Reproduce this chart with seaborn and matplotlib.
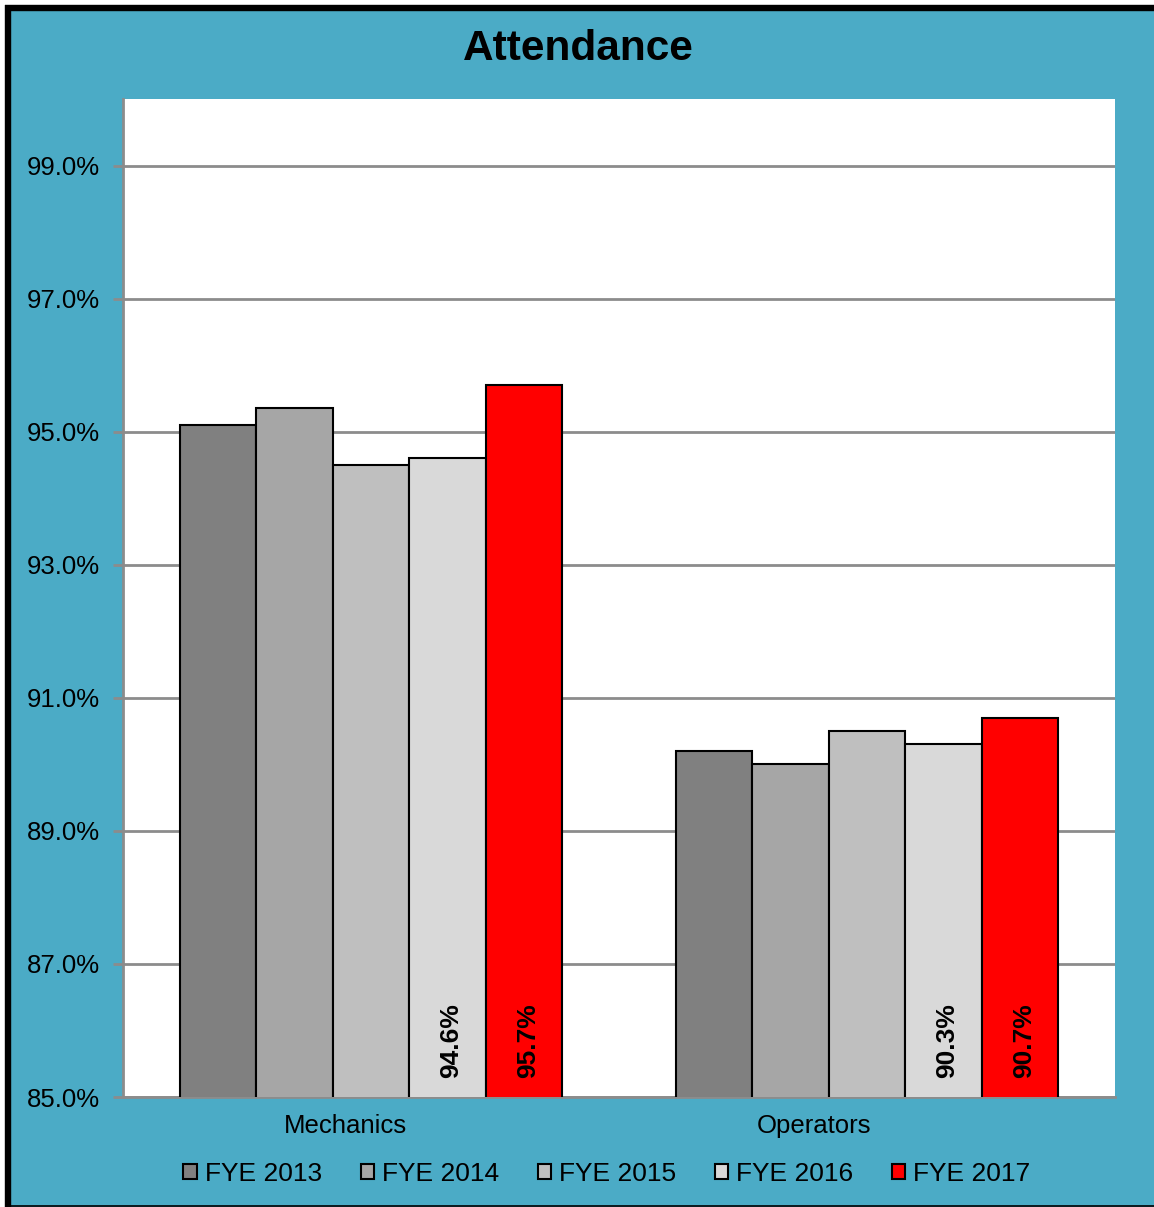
import matplotlib
matplotlib.use("Agg")
import matplotlib.pyplot as plt
import matplotlib.transforms as mtransforms
import seaborn as sns
import pandas as pd
from matplotlib.patches import Rectangle
from matplotlib.lines import Line2D
from matplotlib.ticker import FuncFormatter

categories = ["Mechanics", "Operators"]
years = ["FYE 2013", "FYE 2014", "FYE 2015", "FYE 2016", "FYE 2017"]
mechanics = [95.1, 95.35, 94.5, 94.6, 95.7]
operators = [90.2, 90.0, 90.5, 90.3, 90.7]
colors = ["#808080", "#A6A6A6", "#BFBFBF", "#D9D9D9", "#FF0000"]
labeled_years = ["FYE 2016", "FYE 2017"]
yticks = [85, 87, 89, 91, 93, 95, 97, 99]

rows = []
for cat, vals in zip(categories, [mechanics, operators]):
    for y, v in zip(years, vals):
        rows.append({"Group": cat, "Year": y, "Value": v})
df = pd.DataFrame(rows)

sns.set_style("white")
plt.rcParams["font.family"] = ["Liberation Sans", "DejaVu Sans"]
plt.rcParams["text.color"] = "black"
plt.rcParams["xtick.color"] = "black"
plt.rcParams["ytick.color"] = "black"
plt.rcParams["axes.labelcolor"] = "black"

W, H = 1154, 1207
fig = plt.figure(figsize=(W / 100, H / 100), dpi=100, facecolor="white")

# background panel and frame
teal = "#4BABC6"
fig.add_artist(Rectangle((8 / W, 0), 1, 1 - 8 / H, transform=fig.transFigure,
                         facecolor=teal, edgecolor="none", zorder=0))
fig.add_artist(Line2D([8 / W, 8 / W], [0, 1 - 5 / H], transform=fig.transFigure,
                      color="black", lw=4.6, solid_capstyle="butt", zorder=1))
fig.add_artist(Line2D([5 / W, 1], [1 - 8 / H, 1 - 8 / H], transform=fig.transFigure,
                      color="black", lw=4.6, solid_capstyle="butt", zorder=1))
fig.add_artist(Line2D([5 / W, 1], [1.5 / H, 1.5 / H], transform=fig.transFigure,
                      color="black", lw=1.2, solid_capstyle="butt", zorder=1))

ax = fig.add_axes([123 / W, 1 - 1097 / H, (1115 - 123) / W, (1097 - 99) / H])
ax.set_facecolor("white")

sns.barplot(data=df, x="Group", y="Value", hue="Year", palette=colors,
            saturation=1, width=0.77, gap=0, edgecolor="black", linewidth=1.5,
            ax=ax, legend=True, errorbar=None, zorder=3)

ax.set_ylim(85, 100)
ax.set_xlim(-0.5, 1.5)
ax.set_yticks(yticks)
ax.yaxis.set_major_formatter(FuncFormatter(lambda v, p: f"{v:.1f}%"))
ax.yaxis.grid(True, color="#8C8C8C", lw=2, zorder=0)
ax.set_axisbelow(True)
for s in ["top", "right"]:
    ax.spines[s].set_visible(False)
for s in ["left", "bottom"]:
    ax.spines[s].set_color("#8C8C8C")
    ax.spines[s].set_linewidth(2)
ax.tick_params(axis="y", length=7, width=2, color="#8C8C8C", labelsize=18.5,
               labelcolor="black", pad=9.5, left=True)
ax.tick_params(axis="x", length=0, labelsize=18.5, labelcolor="black", pad=12)
ax.set_xlabel("")
ax.set_ylabel("")

# shift category labels as in the reference
shifts_px = [-26, -53]
for lab, dx in zip(ax.get_xticklabels(), shifts_px):
    off = mtransforms.ScaledTranslation(dx / 100, 0, fig.dpi_scale_trans)
    lab.set_transform(lab.get_transform() + off)

# value labels for the last two series
for container, year in zip(ax.containers, years):
    if year not in labeled_years:
        continue
    for bar in container:
        v = bar.get_height()
        ax.annotate(f"{v:.1f}%", xy=(bar.get_x() + bar.get_width() / 2, 85),
                    xytext=(3, 14), textcoords="offset points",
                    rotation=90, ha="center", va="bottom",
                    fontsize=19, fontweight="bold", color="black", zorder=5)

handles, labels = ax.get_legend_handles_labels()
ax.get_legend().remove()
fig.legend(handles, labels, loc="center", bbox_to_anchor=(607 / W, 1 - 1174 / H),
           ncol=5, frameon=False, fontsize=19, handlelength=0.52,
           handleheight=0.5, handletextpad=0.3, columnspacing=1.45,
           borderaxespad=0)

fig.text(578 / W, 1 - 49 / H, "Attendance", ha="center", va="center",
         fontsize=30.5, fontweight="bold", color="black")

fig.savefig("out.png", dpi=100, facecolor=fig.get_facecolor())
